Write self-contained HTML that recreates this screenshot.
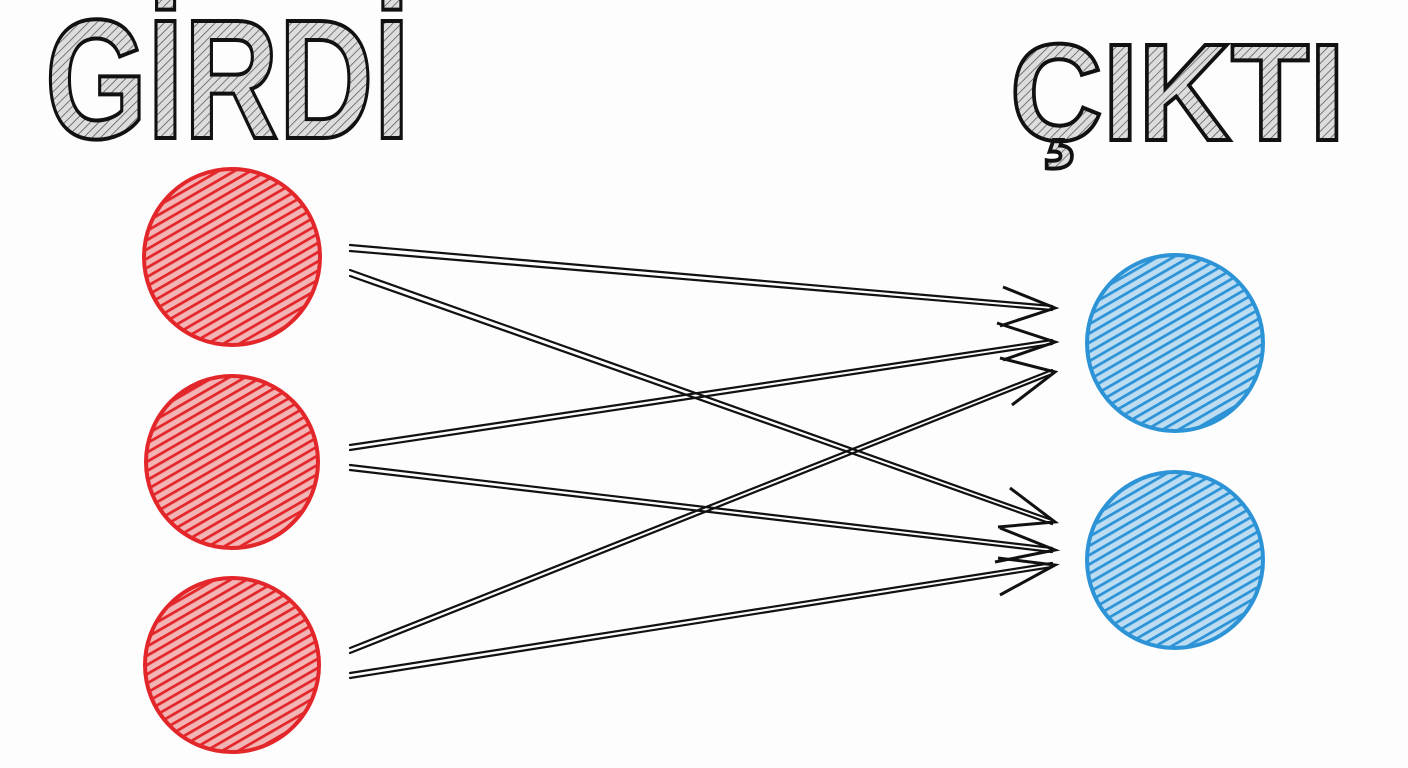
<!DOCTYPE html>
<html><head><meta charset="utf-8"><style>
html,body{margin:0;padding:0;background:#fdfdfd;}
svg{display:block}
</style></head><body>
<svg width="1408" height="768" viewBox="0 0 1408 768" xmlns="http://www.w3.org/2000/svg">
<defs>
<pattern id="hr" patternUnits="userSpaceOnUse" width="8" height="8" patternTransform="rotate(60)">
<rect width="8" height="8" fill="#f2b4b4"/><line x1="0" y1="0" x2="0" y2="8" stroke="#e3262a" stroke-width="5.5"/></pattern>
<pattern id="hb" patternUnits="userSpaceOnUse" width="8" height="8" patternTransform="rotate(60)">
<rect width="8" height="8" fill="#bcdcf2"/><line x1="0" y1="0" x2="0" y2="8" stroke="#2b93d6" stroke-width="5.5"/></pattern>
<pattern id="hk" patternUnits="userSpaceOnUse" width="6" height="6" patternTransform="rotate(45)">
<rect width="6" height="6" fill="#ddd"/><line x1="0" y1="0" x2="0" y2="6" stroke="#555" stroke-width="1.5"/></pattern>
</defs>
<text x="45" y="138" font-family="Liberation Sans, sans-serif" font-weight="bold" font-size="170" textLength="365" lengthAdjust="spacingAndGlyphs" fill="url(#hk)" stroke="#111" stroke-width="4">GİRDİ</text>
<text x="1010" y="140" font-family="Liberation Sans, sans-serif" font-weight="bold" font-size="138" textLength="335" lengthAdjust="spacingAndGlyphs" fill="url(#hk)" stroke="#111" stroke-width="4">ÇIKTI</text>
<g stroke-width="4">
<circle cx="232" cy="257" r="88" fill="url(#hr)" stroke="#e3262a"/>
<circle cx="232" cy="462" r="86" fill="url(#hr)" stroke="#e3262a"/>
<circle cx="232" cy="665" r="87" fill="url(#hr)" stroke="#e3262a"/>
<circle cx="1175" cy="343" r="88" fill="url(#hb)" stroke="#2b93d6"/>
<circle cx="1175" cy="560" r="88" fill="url(#hb)" stroke="#2b93d6"/>
</g>
<g stroke="#111" stroke-width="2.2" fill="none" stroke-linecap="round">
<line x1="350" y1="245" x2="1052" y2="306"/><line x1="350" y1="251" x2="1052" y2="310"/>
<line x1="350" y1="270" x2="1052" y2="520"/><line x1="350" y1="276" x2="1052" y2="524"/>
<line x1="350" y1="445" x2="1052" y2="340"/><line x1="350" y1="450" x2="1052" y2="344"/>
<line x1="350" y1="465" x2="1052" y2="548"/><line x1="350" y1="470" x2="1052" y2="552"/>
<line x1="350" y1="648" x2="1052" y2="370"/><line x1="350" y1="653" x2="1052" y2="374"/>
<line x1="350" y1="673" x2="1052" y2="563"/><line x1="350" y1="678" x2="1052" y2="567"/>
</g>
<g stroke="#111" stroke-width="3" fill="none" stroke-linejoin="miter">
<polyline points="1003,287 1055,308 1000,326"/>
<polyline points="997,323 1055,342 1003,360"/>
<polyline points="1000,358 1055,372 1012,405"/>
<polyline points="1010,488 1055,522 998,527"/>
<polyline points="1000,528 1055,550 995,562"/>
<polyline points="998,558 1055,565 1000,595"/>
</g>
</svg>
</body></html>
